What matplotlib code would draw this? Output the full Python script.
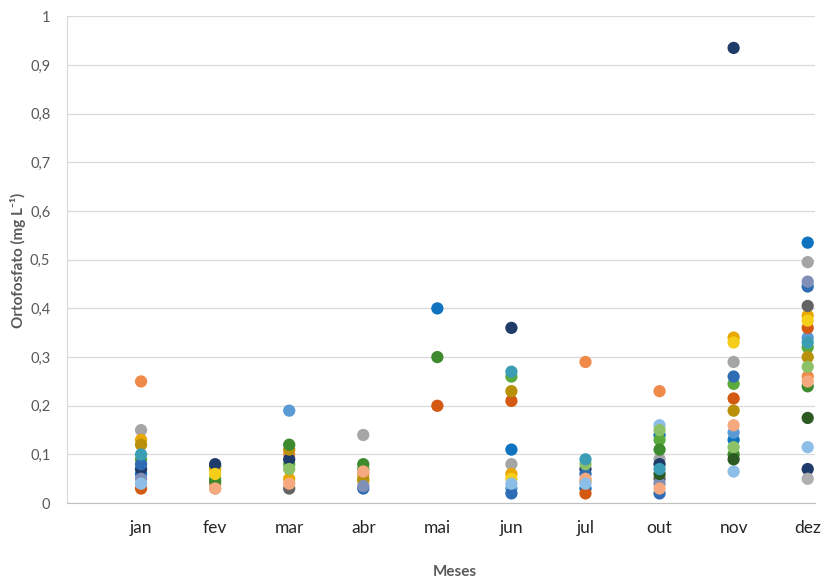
import numpy as np
import matplotlib
matplotlib.use("Agg")
import matplotlib.pyplot as plt
from matplotlib.ticker import FuncFormatter

plt.rcParams['font.family'] = ['Lato', 'DejaVu Sans']

months = ["jan", "fev", "mar", "abr", "mai", "jun", "jul", "out", "nov", "dez"]

# Orthophosphate (mg/L) per sampling point, one value per month (None = not sampled)
N = None
site_values = [
    [0.06, 0.075, N,     N,     0.40, 0.11, 0.03,  0.14, 0.13,  0.535],
    [0.25, 0.04,  0.10,  0.06,  N,    N,    0.29,  0.23, N,     0.26],
    [0.15, 0.03,  N,     0.14,  N,    0.08, N,     0.09, 0.29,  0.495],
    [0.13, 0.07,  0.05,  0.045, N,    0.06, 0.045, N,    0.34,  0.385],
    [N,    N,     0.19,  N,     N,    0.03, N,     N,    0.145, 0.34],
    [0.09, 0.05,  0.08,  0.07,  N,    0.26, N,     0.13, 0.245, 0.32],
    [0.07, 0.08,  0.09,  N,     N,    0.36, 0.07,  0.08, 0.935, 0.07],
    [0.03, N,     N,     N,     0.20, 0.21, 0.02,  N,    0.215, 0.36],
    [N,    N,     0.03,  N,     N,    N,    N,     0.05, N,     0.405],
    [0.12, N,     0.11,  0.05,  N,    0.23, N,     N,    0.19,  0.30],
    [0.08, N,     N,     0.03,  N,    0.02, 0.06,  0.02, 0.26,  0.445],
    [N,    0.045, 0.12,  0.08,  0.30, N,    N,     0.11, 0.10,  0.24],
    [0.05, N,     N,     0.035, N,    N,    N,     0.04, N,     0.455],
    [N,    0.03,  0.04,  0.065, N,    N,    0.05,  0.03, 0.16,  0.25],
    [N,    0.06,  N,     N,     N,    0.05, N,     N,    0.33,  0.375],
    [0.04, N,     N,     N,     N,    0.04, 0.04,  0.16, 0.065, 0.115],
    [N,    N,     0.07,  N,     N,    N,    0.08,  0.15, 0.115, 0.28],
    [N,    N,     N,     N,     N,    N,    N,     0.06, 0.09,  0.175],
    [0.10, N,     N,     N,     N,    0.27, 0.09,  0.07, N,     0.33],
    [N,    N,     N,     N,     N,    N,    N,     N,    N,     0.05],
]

site_colors = [
    "#0F73C0", "#F08A4B", "#A5A5A5", "#E8A800", "#5B9BD5",
    "#5BAA3C", "#1F3B6A", "#D45A14", "#636363", "#B8900A",
    "#2E6DB4", "#3E8A2E", "#7F8FB8", "#F6A97E", "#F5CE1A",
    "#8DBEE8", "#8CC168", "#2D5A22", "#3C9EB5", "#B0B0B0",
]

fig = plt.figure(figsize=(8.23, 5.81), dpi=100)
ax = fig.add_axes([0.0814, 0.134, 0.909, 0.838])

xpos = np.arange(1, len(months) + 1)
for vals, col in zip(site_values, site_colors):
    y = np.array([np.nan if v is None else v for v in vals], dtype=float)
    ax.scatter(xpos, y, s=78, color=col, edgecolors="none", zorder=3)

ax.set_xlim(0, 10.1)
ax.set_ylim(0, 1)
ax.set_yticks(np.arange(0, 1.01, 0.1))
ax.set_xticks(xpos)
ax.set_xticklabels(months)

def fmt(v, _):
    if abs(v) < 1e-9:
        return "0"
    if abs(v - 1) < 1e-9:
        return "1"
    return f"{v:.1f}".replace(".", ",")

ax.yaxis.set_major_formatter(FuncFormatter(fmt))
ax.grid(axis="y", color="#D9D9D9", linewidth=0.9, zorder=0)
ax.set_axisbelow(True)
for s in ["top", "right"]:
    ax.spines[s].set_visible(False)
ax.spines["left"].set_color("#D9D9D9")
ax.spines["bottom"].set_color("#BFBFBF")
ax.tick_params(axis="y", length=0, pad=12, labelsize=10.5, labelcolor="#595959")
ax.tick_params(axis="x", length=0, pad=12, labelsize=12.5, labelcolor="#262626")

fig.text(18 / 823, 1 - 260 / 581, "Ortofosfato (mg L\u207b\u00b9)", fontsize=11,
         fontweight="bold", color="#595959", rotation=90,
         ha="center", va="center")
fig.text(455 / 823, 1 - 572 / 581, "Meses", fontsize=11, fontweight="bold",
         color="#595959", ha="center", va="center")

fig.savefig("out.png", dpi=100)
